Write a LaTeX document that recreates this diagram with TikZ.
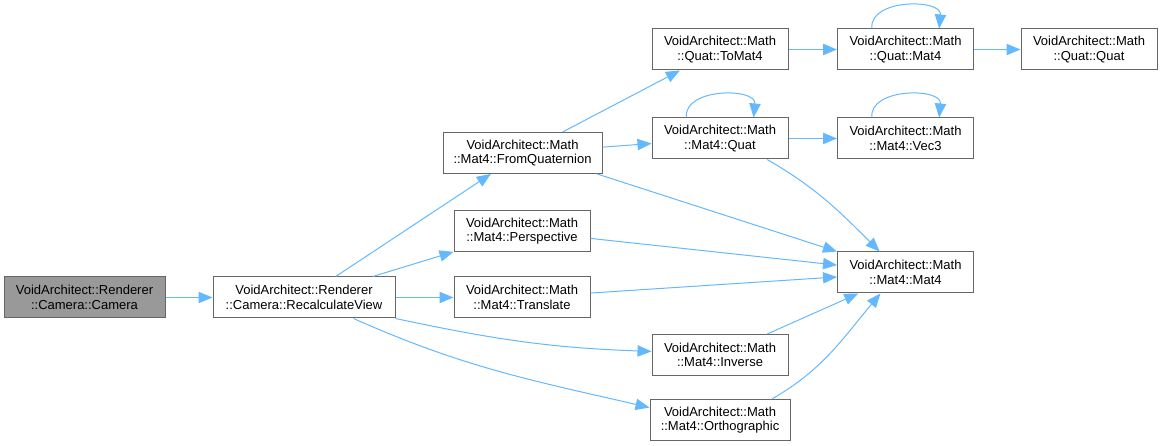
\documentclass[tikz,border=0pt]{standalone}
\usepackage{fontspec}
\setmainfont{Liberation Sans}
\usetikzlibrary{arrows.meta, positioning}
\definecolor{edgeblue}{HTML}{63B8FF}
\definecolor{boxline}{HTML}{666666}
\definecolor{callerfill}{HTML}{999999}

\begin{document}
\begin{tikzpicture}[
    x=0.75pt, y=0.75pt,
    fn/.style={rectangle, draw=boxline, fill=white, line width=0.75pt,
               minimum width=102pt, minimum height=30.75pt, inner sep=0pt,
               align=center, font=\fontsize{9.75pt}{11pt}\selectfont},
    arrow/.style={-{Triangle[length=10.5pt, width=8.5pt]}, line width=0.75pt, edgeblue}
]
\useasboundingbox (0,0) rectangle (1165,446);

% Caller and view
\node[fn, fill=callerfill, minimum width=120.75pt] (camera) at (84.5,148.5) {VoidArchitect::Renderer\\::Camera::Camera};
\node[fn, minimum width=136.5pt] (recalc) at (304,148.5) {VoidArchitect::Renderer\\::Camera::RecalculateView};

% Mat4 builders
\node[fn, minimum width=119.25pt] (fromquat) at (522.5,293) {VoidArchitect::Math\\::Mat4::FromQuaternion};
\node[fn] (persp) at (522,215) {VoidArchitect::Math\\::Mat4::Perspective};
\node[fn] (translate) at (522,148.5) {VoidArchitect::Math\\::Mat4::Translate};
\node[fn] (inverse) at (720,91) {VoidArchitect::Math\\::Mat4::Inverse};
\node[fn, minimum width=105pt] (ortho) at (720,26) {VoidArchitect::Math\\::Mat4::Orthographic};

% Quaternion side
\node[fn] (tomat4) at (720,396.5) {VoidArchitect::Math\\::Quat::ToMat4};
\node[fn] (qmat4) at (905.5,396.5) {VoidArchitect::Math\\::Quat::Mat4};
\node[fn] (qquat) at (1089,396.5) {VoidArchitect::Math\\::Quat::Quat};
\node[fn] (mquat) at (720,307.5) {VoidArchitect::Math\\::Mat4::Quat};
\node[fn] (vec3) at (905.5,307.5) {VoidArchitect::Math\\::Mat4::Vec3};
\node[fn] (mmat4) at (905.5,173.5) {VoidArchitect::Math\\::Mat4::Mat4};

% Calls
\draw[arrow] (camera) -- (recalc);
\draw[arrow] (recalc) -- (fromquat);
\draw[arrow] (recalc) -- (persp);
\draw[arrow] (recalc) -- (translate);
\draw[arrow] (recalc.south east) to[out=-12, in=178] (inverse.177);
\draw[arrow] (recalc.-23) to[out=-24, in=167] (ortho.170);
\draw[arrow] (fromquat) -- (tomat4);
\draw[arrow] (fromquat) -- (mquat);
\draw[arrow] ([xshift=-4pt]fromquat.south east) -- (mmat4.north west);
\draw[arrow] (persp) -- (mmat4);
\draw[arrow] (translate) -- (mmat4);
\draw[arrow] (inverse) -- (mmat4);
\draw[arrow] (ortho.22) to[out=30, in=-130] (mmat4.-140);
\draw[arrow] (mquat.-24) to[out=-30, in=135] (mmat4.141);
\draw[arrow] (mquat) -- (vec3);
\draw[arrow] (tomat4) -- (qmat4);
\draw[arrow] (qmat4) -- (qquat);

% Self calls
\draw[arrow] (qmat4.148) .. controls +(-3,30) and +(3,30) .. (qmat4.32);
\draw[arrow] (mquat.148) .. controls +(-3,30) and +(3,30) .. (mquat.32);
\draw[arrow] (vec3.148) .. controls +(-3,30) and +(3,30) .. (vec3.32);

\end{tikzpicture}
\end{document}
